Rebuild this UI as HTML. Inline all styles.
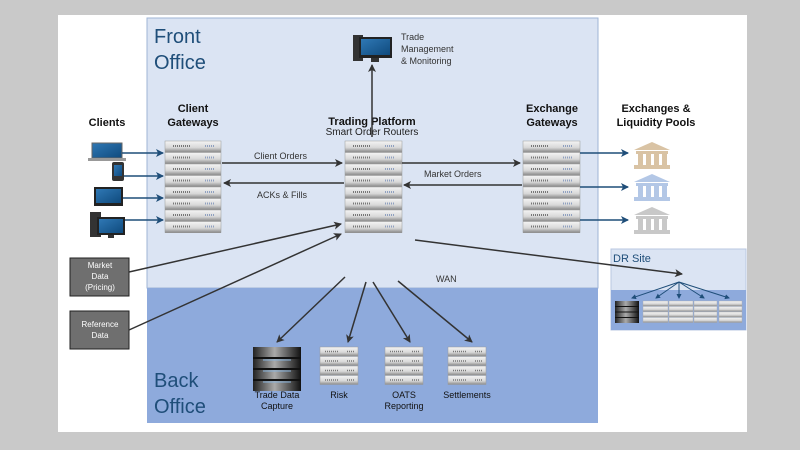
<!DOCTYPE html>
<html><head><meta charset="utf-8"><style>
html,body{margin:0;padding:0;background:#c9c9c9;}
svg{display:block;font-family:"Liberation Sans",sans-serif;}
</style></head><body>
<svg width="800" height="450" viewBox="0 0 800 450" xmlns="http://www.w3.org/2000/svg">
<defs>
<linearGradient id="su" x1="0" y1="0" x2="0" y2="1">
<stop offset="0" stop-color="#f4f4f4"/><stop offset="0.6" stop-color="#d8d8d8"/><stop offset="1" stop-color="#8a8a8a"/></linearGradient>
<linearGradient id="db" x1="0" y1="0" x2="1" y2="0">
<stop offset="0" stop-color="#222"/><stop offset="0.45" stop-color="#aaa"/><stop offset="1" stop-color="#111"/></linearGradient>
<linearGradient id="scr" x1="0" y1="0" x2="1" y2="1"><stop offset="0" stop-color="#2f78b5"/><stop offset="1" stop-color="#0f4a7d"/></linearGradient>
<marker id="ah" markerWidth="8" markerHeight="8" refX="7" refY="4" orient="auto" markerUnits="userSpaceOnUse"><path d="M0,0 L8,4 L0,8 L2,4 Z" fill="#333"/></marker>
<marker id="ab" markerWidth="8" markerHeight="8" refX="7" refY="4" orient="auto" markerUnits="userSpaceOnUse"><path d="M0,0 L8,4 L0,8 L2,4 Z" fill="#1f4e79"/></marker>
<marker id="as" markerWidth="5" markerHeight="5" refX="4" refY="2.5" orient="auto" markerUnits="userSpaceOnUse"><path d="M0,0 L5,2.5 L0,5 Z" fill="#1f4e79"/></marker>
</defs>
<rect x="58" y="15" width="689" height="417" fill="#fff"/>
<rect x="147" y="18" width="451" height="270" fill="#dbe4f3" stroke="#9fb4d6" stroke-width="1"/>
<rect x="147" y="288" width="451" height="135" fill="#8eaadc"/>
<rect x="611" y="249" width="135" height="81" fill="#dbe4f3" stroke="#b8c7e2"/>
<rect x="611" y="290" width="135" height="40" fill="#8eaadc"/>
<text x="154" y="43" font-size="20" fill="#1f4e79">Front</text>
<text x="154" y="69" font-size="20" fill="#1f4e79">Office</text>
<text x="154" y="387" font-size="20" fill="#1f4e79">Back</text>
<text x="154" y="413" font-size="20" fill="#1f4e79">Office</text>
<text x="613" y="262" font-size="11" fill="#1f4e79">DR Site</text>

<g font-size="11" font-weight="bold" fill="#111" text-anchor="middle">
<text x="107" y="126">Clients</text>
<text x="193" y="112">Client</text><text x="193" y="126">Gateways</text>
<text x="372" y="125">Trading Platform</text>
<text x="552" y="112">Exchange</text><text x="552" y="126">Gateways</text>
<text x="656" y="112">Exchanges &amp;</text><text x="656" y="126">Liquidity Pools</text>
</g>
<text x="372" y="135" font-size="10" fill="#222" text-anchor="middle">Smart Order Routers</text>
<g font-size="9" fill="#333">
<text x="401" y="40">Trade</text><text x="401" y="52">Management</text><text x="401" y="64">&amp; Monitoring</text>
<text x="254" y="159">Client Orders</text>
<text x="257" y="198">ACKs &amp; Fills</text>
<text x="424" y="177">Market Orders</text>
<text x="436" y="282">WAN</text>
</g>

<g>
<g transform="translate(165,141)">
<rect width="56" height="92" fill="#888"/>
<g fill="url(#su)" stroke="#999" stroke-width="0.5">
<rect y="0" width="56" height="11"/><rect y="11.5" width="56" height="11"/><rect y="23" width="56" height="11"/><rect y="34.5" width="56" height="11"/><rect y="46" width="56" height="11"/><rect y="57.5" width="56" height="11"/><rect y="69" width="56" height="11"/><rect y="80.5" width="56" height="11"/></g>
<g stroke="#777" stroke-width="2" stroke-dasharray="1,1"><path d="M8,5h18M8,16.5h18M8,28h18M8,39.5h18M8,51h18M8,62.5h18M8,74h18M8,85.5h18"/><path d="M40,5h10M40,16.5h10M40,28h10M40,39.5h10M40,51h10M40,62.5h10M40,74h10M40,85.5h10" stroke="#8fa0c0"/></g>
</g>
<g transform="translate(345,141)">
<rect width="57" height="92" fill="#888"/>
<g fill="url(#su)" stroke="#999" stroke-width="0.5">
<rect y="0" width="57" height="11"/><rect y="11.5" width="57" height="11"/><rect y="23" width="57" height="11"/><rect y="34.5" width="57" height="11"/><rect y="46" width="57" height="11"/><rect y="57.5" width="57" height="11"/><rect y="69" width="57" height="11"/><rect y="80.5" width="57" height="11"/></g>
<g stroke="#777" stroke-width="2" stroke-dasharray="1,1"><path d="M8,5h18M8,16.5h18M8,28h18M8,39.5h18M8,51h18M8,62.5h18M8,74h18M8,85.5h18"/><path d="M40,5h10M40,16.5h10M40,28h10M40,39.5h10M40,51h10M40,62.5h10M40,74h10M40,85.5h10" stroke="#8fa0c0"/></g>
</g>
<g transform="translate(523,141)">
<rect width="57" height="92" fill="#888"/>
<g fill="url(#su)" stroke="#999" stroke-width="0.5">
<rect y="0" width="57" height="11"/><rect y="11.5" width="57" height="11"/><rect y="23" width="57" height="11"/><rect y="34.5" width="57" height="11"/><rect y="46" width="57" height="11"/><rect y="57.5" width="57" height="11"/><rect y="69" width="57" height="11"/><rect y="80.5" width="57" height="11"/></g>
<g stroke="#777" stroke-width="2" stroke-dasharray="1,1"><path d="M8,5h18M8,16.5h18M8,28h18M8,39.5h18M8,51h18M8,62.5h18M8,74h18M8,85.5h18"/><path d="M40,5h10M40,16.5h10M40,28h10M40,39.5h10M40,51h10M40,62.5h10M40,74h10M40,85.5h10" stroke="#8fa0c0"/></g>
</g>
<g transform="translate(320,347)"><g fill="url(#su)" stroke="#999" stroke-width="0.5"><rect y="0" width="38" height="9"/><rect y="9.5" width="38" height="9"/><rect y="19" width="38" height="9"/><rect y="28.5" width="38" height="9"/></g><g stroke="#777" stroke-width="1.5" stroke-dasharray="1,1"><path d="M5,4.5h14M5,14h14M5,23.5h14M5,33h14M27,4.5h7M27,14h7M27,23.5h7M27,33h7"/></g></g>
<g transform="translate(385,347)"><g fill="url(#su)" stroke="#999" stroke-width="0.5"><rect y="0" width="38" height="9"/><rect y="9.5" width="38" height="9"/><rect y="19" width="38" height="9"/><rect y="28.5" width="38" height="9"/></g><g stroke="#777" stroke-width="1.5" stroke-dasharray="1,1"><path d="M5,4.5h14M5,14h14M5,23.5h14M5,33h14M27,4.5h7M27,14h7M27,23.5h7M27,33h7"/></g></g>
<g transform="translate(448,347)"><g fill="url(#su)" stroke="#999" stroke-width="0.5"><rect y="0" width="38" height="9"/><rect y="9.5" width="38" height="9"/><rect y="19" width="38" height="9"/><rect y="28.5" width="38" height="9"/></g><g stroke="#777" stroke-width="1.5" stroke-dasharray="1,1"><path d="M5,4.5h14M5,14h14M5,23.5h14M5,33h14M27,4.5h7M27,14h7M27,23.5h7M27,33h7"/></g></g>
<g transform="translate(253,347)"><rect width="48" height="44" fill="url(#db)"/><g stroke="#111" stroke-width="2"><path d="M0,11h48M0,22h48M0,33h48"/></g><g stroke="#8ab4dc" stroke-width="1"><path d="M10,13h28M10,24h28M10,35h28"/></g></g>
<g font-size="9" fill="#111" text-anchor="middle">
<text x="277" y="398">Trade Data</text><text x="277" y="409">Capture</text>
<text x="339" y="398">Risk</text>
<text x="404" y="398">OATS</text><text x="404" y="409">Reporting</text>
<text x="467" y="398">Settlements</text>
</g>
<g transform="translate(615,301)"><rect width="24" height="22" fill="url(#db)"/><path d="M0,5.5h24M0,11h24M0,16.5h24" stroke="#111"/></g>
<g fill="url(#su)" stroke="#aaa" stroke-width="0.4">
<rect x="643" y="301" width="25" height="5"/><rect x="643" y="306.5" width="25" height="5"/><rect x="643" y="312" width="25" height="5"/><rect x="643" y="317.5" width="25" height="5"/>
<rect x="669" y="301" width="24" height="5"/><rect x="669" y="306.5" width="24" height="5"/><rect x="669" y="312" width="24" height="5"/><rect x="669" y="317.5" width="24" height="5"/>
<rect x="694" y="301" width="23" height="5"/><rect x="694" y="306.5" width="23" height="5"/><rect x="694" y="312" width="23" height="5"/><rect x="694" y="317.5" width="23" height="5"/>
<rect x="719" y="301" width="23" height="5"/><rect x="719" y="306.5" width="23" height="5"/><rect x="719" y="312" width="23" height="5"/><rect x="719" y="317.5" width="23" height="5"/>
</g>
<g stroke="#1f4e79" stroke-width="1" fill="none" marker-end="url(#as)">
<path d="M679,282 L632,298"/><path d="M679,282 L656,298"/><path d="M679,282 L679,298"/><path d="M679,282 L704,298"/><path d="M679,282 L729,298"/>
</g>
</g>

<g>
<rect x="92" y="143" width="30" height="15" fill="url(#scr)" stroke="#666"/>
<rect x="88" y="158" width="38" height="3" fill="#999"/>
<rect x="112" y="162" width="12" height="19" rx="2" fill="#333"/><rect x="114" y="165" width="8" height="11" fill="url(#scr)"/>
<rect x="94" y="187" width="29" height="19" fill="#222"/><rect x="96" y="189" width="25" height="14" fill="url(#scr)"/>
<rect x="90" y="212" width="11" height="25" fill="#333"/>
<rect x="97" y="217" width="28" height="18" fill="#222"/><rect x="99" y="219" width="24" height="14" fill="url(#scr)"/>
<rect x="108" y="235" width="6" height="3" fill="#333"/>
</g>
<rect x="353" y="35" width="10" height="26" fill="#333"/>
<rect x="359" y="37" width="33" height="21" fill="#222"/><rect x="361" y="39" width="29" height="16" fill="url(#scr)"/>
<rect x="371" y="58" width="8" height="4" fill="#333"/>
<g>
<g transform="translate(634,142)" fill="#d9c3a4"><path d="M0,8 L18,0 L36,8 Z"/><rect x="2" y="9" width="32" height="3"/><rect x="4" y="12" width="5" height="11"/><rect x="12" y="12" width="5" height="11"/><rect x="20" y="12" width="5" height="11"/><rect x="28" y="12" width="5" height="11"/><rect x="0" y="23" width="36" height="4"/></g>
<g transform="translate(634,174)" fill="#b3c7e6"><path d="M0,8 L18,0 L36,8 Z"/><rect x="2" y="9" width="32" height="3"/><rect x="4" y="12" width="5" height="11"/><rect x="12" y="12" width="5" height="11"/><rect x="20" y="12" width="5" height="11"/><rect x="28" y="12" width="5" height="11"/><rect x="0" y="23" width="36" height="4"/></g>
<g transform="translate(634,207)" fill="#c8c8c8"><path d="M0,8 L18,0 L36,8 Z"/><rect x="2" y="9" width="32" height="3"/><rect x="4" y="12" width="5" height="11"/><rect x="12" y="12" width="5" height="11"/><rect x="20" y="12" width="5" height="11"/><rect x="28" y="12" width="5" height="11"/><rect x="0" y="23" width="36" height="4"/></g>
</g>

<rect x="70" y="258" width="59" height="38" fill="#6f6f6f" stroke="#222"/>
<rect x="70" y="311" width="59" height="38" fill="#6f6f6f" stroke="#222"/>
<g font-size="8" fill="#fff" text-anchor="middle">
<text x="100" y="268">Market</text><text x="100" y="279">Data</text><text x="100" y="290">(Pricing)</text>
<text x="100" y="327">Reference</text><text x="100" y="338">Data</text>
</g>

<g stroke="#1f4e79" stroke-width="1.5" fill="none" marker-end="url(#ab)">
<path d="M122,153 H163"/><path d="M124,176 H163"/><path d="M123,198 H163"/><path d="M125,220 H163"/>
<path d="M580,153 H628"/><path d="M580,187 H628"/><path d="M580,220 H628"/>
</g>
<g stroke="#333" stroke-width="1.5" fill="none" marker-end="url(#ah)">
<path d="M222,163 H342"/><path d="M344,183 H224"/>
<path d="M402,163 H520"/><path d="M522,185 H404"/>
<path d="M372,137 V65"/>
<path d="M129,272 L341,224"/><path d="M129,330 L341,234"/>
<path d="M415,240 L682,274"/>
<path d="M345,277 L277,342"/><path d="M366,282 L348,342"/><path d="M373,282 L410,342"/><path d="M398,281 L472,342"/>
</g>
</svg>
</body></html>
